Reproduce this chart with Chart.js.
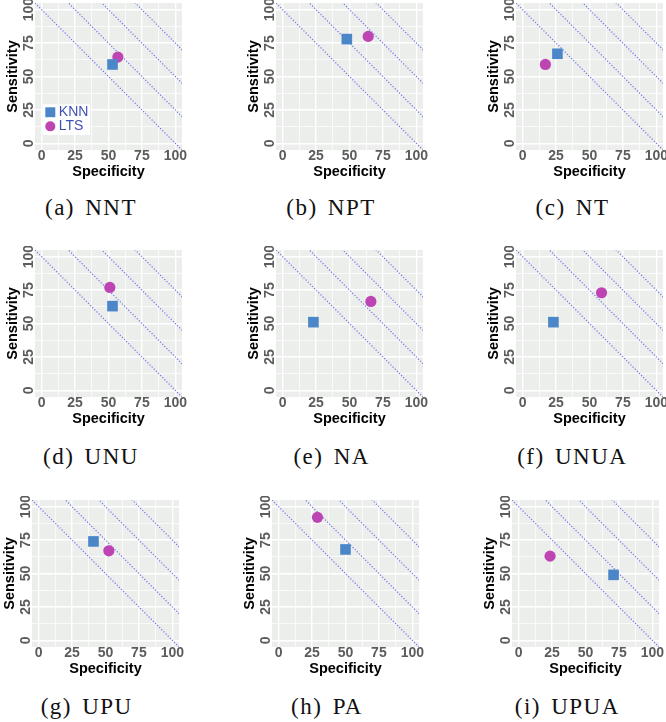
<!DOCTYPE html>
<html>
<head>
<meta charset="utf-8">
<script src="https://cdn.jsdelivr.net/npm/chart.js@4"></script>
<style>
  html, body { margin:0; padding:0; background:#fff; overflow:hidden; }
  body { width:666px; height:722px; position:relative; }
  canvas { position:absolute; }
  .cap { position:absolute; font-family:'Liberation Serif','DejaVu Serif',serif; font-size:23px; line-height:23px;
         letter-spacing:1.5px; word-spacing:3px; color:#111; white-space:nowrap; transform:translate(-50%,-50%); }
</style>
</head>
<body>
<script>
// ---- data ----
const panelLetters = ['a','b','c','d','e','f','g','h','i'];
const panelNames   = ['NNT','NPT','NT','UNU','NA','UNUA','UPU','PA','UPUA'];
const knnSpec = [53, 48, 26, 53, 23, 23, 41, 50, 71];
const knnSens = [59, 78, 67, 63, 51, 51, 74, 68, 49];
const ltsSpec = [57, 64, 17, 51, 66, 59, 52.5, 29, 23.5];
const ltsSens = [64.5, 80, 59, 77, 66.5, 73, 67, 92, 63];
const diagIntercepts = [100, 125, 150, 175];
const majorTicks = [0, 25, 50, 75, 100];
const minorTicks = [12.5, 37.5, 62.5, 87.5];
const seriesNames = ['KNN', 'LTS'];

// ---- layout (plot area left/top, caption centre) ----
const plotLeft = [35, 276, 516, 35, 276, 516, 32, 272, 512];
const plotTop  = [3, 3, 3, 250, 250, 250, 500, 500, 500];
const capX = [91, 331, 572.5, 91, 331.7, 572.3, 86.7, 327, 567.3];
const capY = [207, 207, 207, 456.3, 456.3, 456.3, 706.3, 706.3, 706.3];
const S = 147, PADL = 40, PADT = 4, PADR = 10, XAX = 34;

const allTicks = majorTicks.concat(minorTicks).sort((a,b)=>a-b);
const FONT = "'Liberation Sans', Arial, sans-serif";

const panelPlugin = {
  id: 'panelPlugin',
  beforeDraw(chart) {
    const {ctx, chartArea: a} = chart;
    ctx.save();
    ctx.fillStyle = '#ECEEEC';
    ctx.fillRect(a.left, a.top, a.right - a.left, a.bottom - a.top);
    ctx.restore();
    const lg = chart.legend;
    if (lg && lg.options.display) {
      lg.left = a.left + 13.8; lg.right = a.right;
      lg.top = a.bottom - 44.7; lg.bottom = a.bottom;
    }
  },
  beforeDatasetsDraw(chart) {
    const lg = chart.legend;
    if (lg && lg.options.display) {
      const {ctx, chartArea: a} = chart;
      ctx.save();
      ctx.fillStyle = '#ffffff';
      ctx.fillRect(a.left + 7.7, a.bottom - 45.7, 47.3, 30.7);
      ctx.restore();
      ctx.save();
      if (typeof lg._draw === 'function') lg._draw(); else lg.draw();
      ctx.restore();
    }
  }
};

function axisCfg(isY) {
  return {
    type: 'linear', min: -5, max: 105,
    afterBuildTicks: s => { s.ticks = allTicks.map(v => ({value: v})); },
    afterFit: s => {
      if (isY) s.width = PADL; else s.height = XAX;
      s.paddingLeft = s.paddingRight = s.paddingTop = s.paddingBottom = 0;
    },
    grid: {
      color: '#ffffff',
      lineWidth: c => (c.tick && majorTicks.includes(c.tick.value)) ? 1.4 : 0.7,
      drawTicks: false
    },
    border: { display: false },
    ticks: {
      autoSkip: false,
      callback: v => majorTicks.includes(v) ? String(v) : '',
      font: { family: FONT, size: 14, weight: 'bold' },
      color: '#5c5c5c',
      padding: isY ? -6 : -2,
      ...(isY ? { minRotation: 90, maxRotation: 90, crossAlign: 'center' } : { maxRotation: 0, minRotation: 0 })
    },
    title: {
      display: true,
      text: isY ? 'Sensitivity' : 'Specificity',
      color: '#000',
      font: { family: FONT, size: 14.5, weight: 'bold' },
      padding: isY ? { top: 9.7, bottom: 0 } : { top: 0, bottom: 3.4 }
    }
  };
}

for (let i = 0; i < 9; i++) {
  const cv = document.createElement('canvas');
  const W = PADL + S + PADR, H = PADT + S + XAX;
  cv.width = W; cv.height = H;
  cv.style.left = (plotLeft[i] - PADL) + 'px';
  cv.style.top = (plotTop[i] - PADT) + 'px';
  cv.style.width = W + 'px'; cv.style.height = H + 'px';
  document.body.appendChild(cv);

  const datasets = [
    { label: seriesNames[0], type: 'scatter', data: [{x: knnSpec[i], y: knnSens[i]}],
      pointStyle: 'rect', pointRadius: 7.5, pointHoverRadius: 7.5, backgroundColor: '#4A86C8', borderWidth: 0 },
    { label: seriesNames[1], type: 'scatter', data: [{x: ltsSpec[i], y: ltsSens[i]}],
      pointStyle: 'circle', pointRadius: 5.6, pointHoverRadius: 5.6, backgroundColor: '#BE44B4', borderWidth: 0 }
  ].concat(diagIntercepts.map(c => ({
      label: 'x+y=' + c, type: 'line',
      data: [{x: -5, y: c + 5}, {x: c + 5, y: -5}],
      borderColor: '#7070ee', borderWidth: 1.2, borderDash: [1.2, 1.8],
      pointRadius: 0, fill: false, tension: 0
  })));

  new Chart(cv, {
    type: 'scatter',
    data: { datasets },
    options: {
      responsive: false, animation: false, devicePixelRatio: 1,
      layout: { autoPadding: false, padding: { left: 0, top: PADT, right: PADR, bottom: 0 } },
      scales: { x: axisCfg(false), y: axisCfg(true) },
      plugins: {
        tooltip: { enabled: false },
        legend: {
          display: i === 0,
          position: 'chartArea',
          align: 'start',
          labels: {
            usePointStyle: true, boxWidth: 3, boxHeight: 10, padding: 0,
            color: '#3F51B5',
            font: { family: FONT, size: 14 },
            generateLabels(chart) {
              const items = Chart.defaults.plugins.legend.labels.generateLabels(chart)
                .filter(it => it.datasetIndex < 2);
              items[0].lineWidth = 0;
              items[1].lineWidth = 4; items[1].strokeStyle = '#ffffff';
              return items;
            }
          }
        }
      }
    },
    plugins: [panelPlugin]
  });

  const cap = document.createElement('div');
  cap.className = 'cap';
  cap.textContent = '(' + panelLetters[i] + ') ' + panelNames[i];
  cap.style.left = capX[i] + 'px';
  cap.style.top = capY[i] + 'px';
  document.body.appendChild(cap);
}
</script>
</body>
</html>
